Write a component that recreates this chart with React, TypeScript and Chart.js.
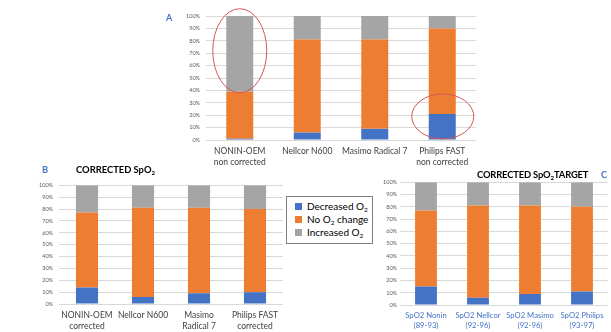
import React, { useEffect, useRef } from "react";
import { Chart, registerables } from "chart.js";

Chart.register(...registerables);

// ---------- DATA ----------
const categoriesA = [["NONIN-OEM", "non corrected"], "Nellcor N600", "Masimo Radical 7", ["Philips FAST", "non corrected"]];
const decreasedA = [1, 6, 9, 21];
const noChangeA = [38, 75, 72, 69];
const increasedA = [61, 19, 19, 10];

const categoriesB = [["NONIN-OEM", "corrected"], "Nellcor N600", ["Masimo", "Radical 7"], ["Philips FAST", "corrected"]];
const decreasedB = [14, 6, 9, 10];
const noChangeB = [63, 75, 72, 70];
const increasedB = [23, 19, 19, 20];

const categoriesC = [["SpO2 Nonin", "(89-93)"], ["SpO2 Nellcor", "(92-96)"], ["SpO2 Masimo", "(92-96)"], ["SpO2 Philips", "(93-97)"]];
const decreasedC = [15, 6, 9, 11];
const noChangeC = [62, 75, 72, 69];
const increasedC = [23, 19, 19, 20];

const yTicks = [0, 10, 20, 30, 40, 50, 60, 70, 80, 90, 100];

const BLUE = "#4472C4";
const ORANGE = "#ED7D31";
const GRAY = "#A5A5A5";
const FONT = "Lato, 'Liberation Sans', sans-serif";

type Spec = {
  labels: any[];
  dec: number[];
  no: number[];
  inc: number[];
  yWidth: number;
  xHeight: number;
  yPad: number;
  padding: { top: number; right: number; bottom: number; left: number };
  barPct: number;
  labelColor: string;
  labelSize: number;
  ellipses?: boolean;
};

function makeConfig(s: Spec): any {
  const plugins: any[] = [];
  if (s.ellipses) {
    plugins.push({
      id: "ellipses",
      afterDraw(chart: any) {
        const { ctx } = chart;
        const x = chart.scales.x;
        const y = chart.scales.y;
        ctx.save();
        ctx.strokeStyle = "#D05A5A";
        ctx.lineWidth = 1;
        ctx.beginPath();
        ctx.ellipse(x.getPixelForValue(0), y.getPixelForValue(72), 27, 42, 0, 0, Math.PI * 2);
        ctx.stroke();
        ctx.beginPath();
        ctx.ellipse(x.getPixelForValue(3) + 0.5, y.getPixelForValue(19), 31, 22.5, 0, 0, Math.PI * 2);
        ctx.stroke();
        ctx.restore();
      },
    });
  }
  return {
    type: "bar",
    data: {
      labels: s.labels,
      datasets: [
        { label: "Decreased O2", data: s.dec, backgroundColor: BLUE },
        { label: "No O2 change", data: s.no, backgroundColor: ORANGE },
        { label: "Increased O2", data: s.inc, backgroundColor: GRAY },
      ],
    },
    options: {
      responsive: false,
      animation: false,
      devicePixelRatio: 1,
      layout: { padding: s.padding },
      datasets: { bar: { barPercentage: s.barPct, categoryPercentage: 1 } },
      plugins: { legend: { display: false }, tooltip: { enabled: false }, title: { display: false } },
      scales: {
        x: {
          stacked: true,
          grid: { display: false, drawTicks: false },
          border: { display: false },
          ticks: {
            autoSkip: false,
            maxRotation: 0,
            minRotation: 0,
            padding: 6,
            color: s.labelColor,
            font: { family: FONT, size: s.labelSize, lineHeight: 1.3 },
          },
          afterFit: (scale: any) => {
            scale.height = s.xHeight;
          },
        },
        y: {
          stacked: true,
          min: 0,
          max: 100,
          afterBuildTicks: (scale: any) => {
            scale.ticks = yTicks.map((v) => ({ value: v }));
          },
          grid: { color: "#D9D9D9", lineWidth: 1, drawTicks: false },
          border: { display: false },
          ticks: {
            padding: s.yPad,
            color: "#595959",
            font: { family: FONT, size: 5.5 },
            callback: (v: any) => v + "%",
          },
          afterFit: (scale: any) => {
            scale.width = s.yWidth;
          },
        },
      },
    },
    plugins,
  };
}

function ChartBox(props: { spec: Spec; left: number; top: number; width: number; height: number }) {
  const ref = useRef<HTMLCanvasElement>(null);
  useEffect(() => {
    if (!ref.current) return;
    const chart = new Chart(ref.current, makeConfig(props.spec));
    return () => chart.destroy();
  }, []);
  return (
    <canvas
      ref={ref}
      width={props.width}
      height={props.height}
      style={{ position: "absolute", left: props.left, top: props.top, width: props.width, height: props.height }}
    />
  );
}

const specA: Spec = {
  labels: categoriesA,
  dec: decreasedA,
  no: noChangeA,
  inc: increasedA,
  yWidth: 46,
  xHeight: 30,
  yPad: 6,
  padding: { top: 16, right: 14, bottom: 0, left: 0 },
  barPct: 0.4,
  labelColor: "#3F3F3F",
  labelSize: 8.5,
  ellipses: true,
};
const specB: Spec = {
  labels: categoriesB,
  dec: decreasedB,
  no: noChangeB,
  inc: increasedB,
  yWidth: 49,
  xHeight: 28,
  yPad: 6,
  padding: { top: 4, right: 17, bottom: 0, left: 0 },
  barPct: 0.395,
  labelColor: "#3F3F3F",
  labelSize: 8.5,
};
const specC: Spec = {
  labels: categoriesC,
  dec: decreasedC,
  no: noChangeC,
  inc: increasedC,
  yWidth: 40,
  xHeight: 27,
  yPad: 3,
  padding: { top: 5, right: 3, bottom: 0, left: 0 },
  barPct: 0.42,
  labelColor: BLUE,
  labelSize: 7.7,
};

const sub: React.CSSProperties = { fontSize: "0.65em", verticalAlign: "-0.25em", lineHeight: 0 };

export default function App() {
  const abs = (l: number, t: number, extra: React.CSSProperties = {}): React.CSSProperties => ({
    position: "absolute",
    left: l,
    top: t,
    whiteSpace: "nowrap",
    ...extra,
  });
  return (
    <div style={{ position: "absolute", left: 0, top: 0, width: 611, height: 332, background: "#fff", overflow: "hidden", fontFamily: FONT }}>
      <ChartBox spec={specA} left={160} top={0} width={330} height={170} />
      <ChartBox spec={specB} left={10} top={176} width={290} height={156} />
      <ChartBox spec={specC} left={360} top={176} width={251} height={156} />

      <div style={abs(166, 12, { color: BLUE, fontWeight: 700, fontSize: 9 })}>A</div>
      <div style={abs(42, 164, { color: BLUE, fontWeight: 700, fontSize: 9 })}>B</div>
      <div style={abs(601, 169, { color: BLUE, fontWeight: 700, fontSize: 9 })}>C</div>

      <div style={abs(76, 164, { color: "#000", fontWeight: 700, fontSize: 9.4 })}>
        CORRECTED SpO<span style={sub}>2</span>
      </div>
      <div style={abs(477, 169, { color: "#000", fontWeight: 700, fontSize: 9.4, letterSpacing: -0.15 })}>
        CORRECTED SpO<span style={sub}>2</span>TARGET
      </div>

      <div
        style={abs(286, 196, {
          width: 87,
          height: 48,
          boxSizing: "border-box",
          border: "1px solid #7F7F7F",
          background: "#fff",
          fontSize: 10,
          color: "#000",
        })}
      >
        {[
          { c: BLUE, a: "Decreased O", b: "" },
          { c: ORANGE, a: "No O", b: " change" },
          { c: GRAY, a: "Increased O", b: "" },
        ].map((it, i) => (
          <div key={i} style={{ position: "absolute", left: 8, top: 3 + i * 13, height: 13, lineHeight: "13px" }}>
            <span style={{ position: "absolute", left: 0, top: 3, width: 7, height: 7, background: it.c }} />
            <span style={{ position: "absolute", left: 12, top: 0 }}>
              {it.a}
              <span style={sub}>2</span>
              {it.b}
            </span>
          </div>
        ))}
      </div>
    </div>
  );
}
